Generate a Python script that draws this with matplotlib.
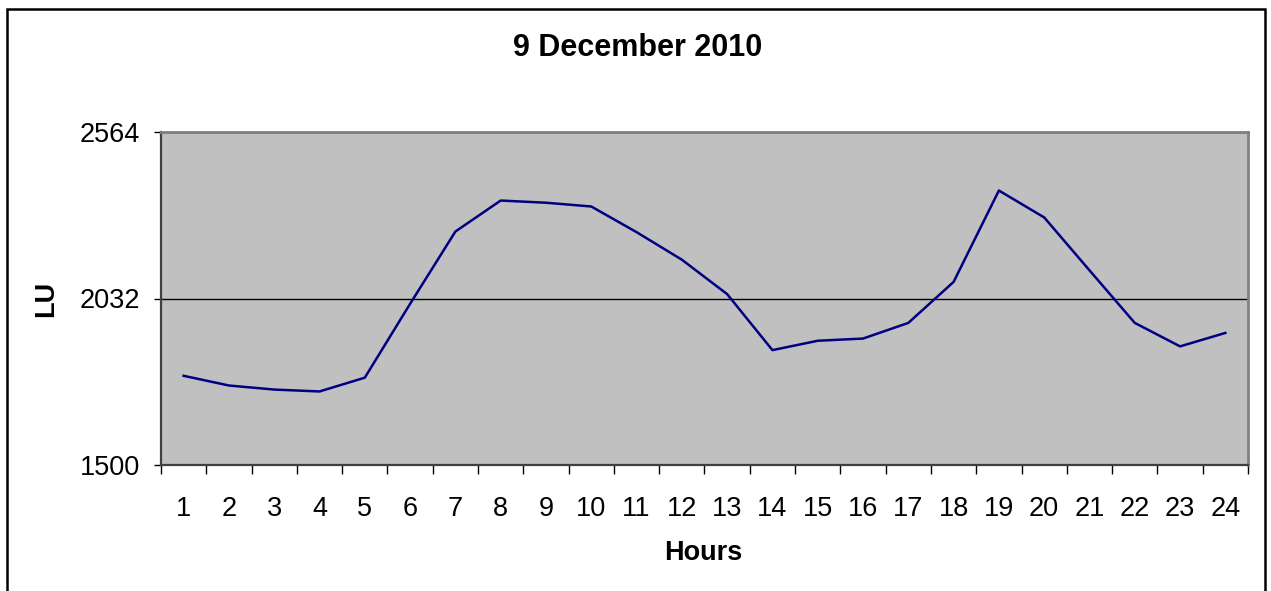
import matplotlib.pyplot as plt
from matplotlib.patches import Rectangle
from matplotlib.ticker import FixedLocator

plt.rcParams['font.family'] = ['Liberation Sans', 'DejaVu Sans']

# dados
horas = list(range(1, 25))
lu = [1785, 1754, 1741, 1735, 1779, 2015, 2246, 2345, 2338, 2326, 2244, 2156,
      2046, 1867, 1897, 1904, 1954, 2085, 2377, 2291, 2122, 1954, 1879, 1922]
y_ticks = [1500, 2032, 2564]
titulo = '9 December 2010'

W, H = 1271, 591
fig = plt.figure(figsize=(W / 100, H / 100), dpi=100)
ax = fig.add_axes([161 / W, 1 - 465 / H, (1248 - 161) / W, (465 - 132) / H])

ax.set_facecolor('#C0C0C0')
ax.plot(horas, lu, color='#000080', linewidth=1.8, zorder=3)

ax.set_xlim(0.5, 24.5)
ax.set_ylim(y_ticks[0], y_ticks[-1])
ax.set_yticks(y_ticks)
ax.set_yticklabels([str(v) for v in y_ticks])
ax.yaxis.grid(True, color='black', linewidth=1)
ax.set_axisbelow(True)

# ticks nas fronteiras, rotulos no centro das categorias
ax.xaxis.set_major_locator(FixedLocator([h + 0.5 for h in [0] + horas]))
ax.xaxis.set_minor_locator(FixedLocator(horas))
ax.set_xticklabels([], minor=False)
ax.set_xticklabels([str(h) for h in horas], minor=True)
ax.tick_params(axis='x', which='major', direction='out', length=6.5, width=1, color='black')
ax.tick_params(axis='x', which='minor', length=0, pad=22.5, labelsize=19.5)
ax.tick_params(axis='y', direction='out', length=5, width=1, pad=10, labelsize=19.5)

for s in ['top', 'right']:
    ax.spines[s].set_color('#808080')
    ax.spines[s].set_linewidth(2)
for s in ['left', 'bottom']:
    ax.spines[s].set_color('#404040')
    ax.spines[s].set_linewidth(1.6)

fig.text(638 / W, 1 - 48 / H, titulo, ha='center', va='center',
         fontsize=22, fontweight='bold')
fig.text(703 / W, 1 - 553 / H, 'Hours', ha='center', va='center',
         fontsize=19.5, fontweight='bold')
fig.text(46 / W, 1 - 299 / H, 'LU', ha='center', va='center',
         fontsize=19.5, fontweight='bold', rotation=90)

# moldura do grafico
fig.patches.append(Rectangle((7 / W, -0.05), (1265 - 7) / W, 1.05 - 9 / H,
                             transform=fig.transFigure, fill=False,
                             edgecolor='black', linewidth=1.8))

fig.savefig('out.png', dpi=100)
